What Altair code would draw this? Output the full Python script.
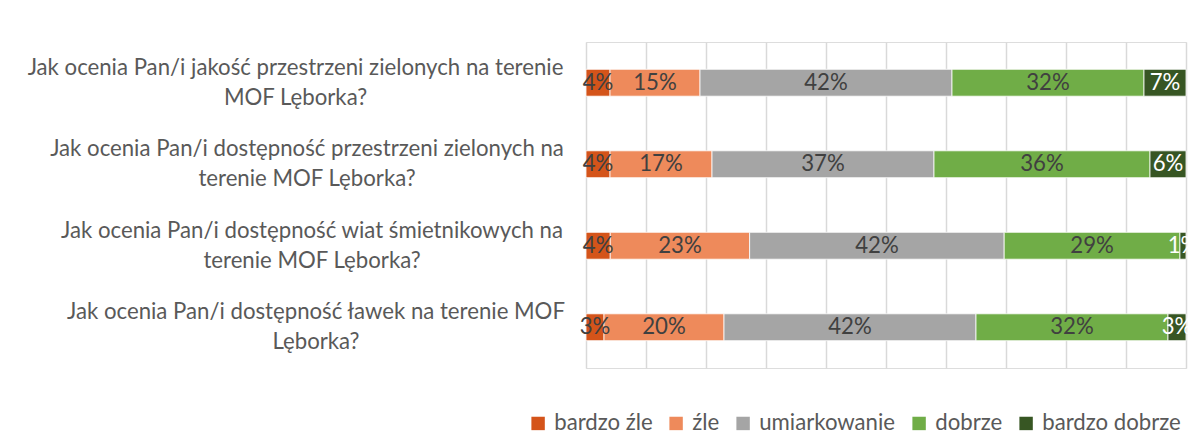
import altair as alt
import pandas as pd

questions = [
    "Jak ocenia Pan/i jakość przestrzeni zielonych na terenie\nMOF Lęborka?",
    "Jak ocenia Pan/i dostępność przestrzeni zielonych na\nterenie MOF Lęborka?",
    "Jak ocenia Pan/i dostępność wiat śmietnikowych na\nterenie MOF Lęborka?",
    "Jak ocenia Pan/i dostępność ławek na terenie MOF\nLęborka?",
]
categories = ["bardzo źle", "źle", "umiarkowanie", "dobrze", "bardzo dobrze"]
colors = ["#D4541A", "#EE8A5B", "#A5A5A5", "#70AD47", "#375623"]

bardzo_zle = [4, 4, 4, 3]
zle = [15, 17, 23, 20]
umiarkowanie = [42, 37, 42, 42]
dobrze = [32, 36, 29, 32]
bardzo_dobrze = [7, 6, 1, 3]

series = [bardzo_zle, zle, umiarkowanie, dobrze, bardzo_dobrze]
rows = []
for ci, (cat, vals) in enumerate(zip(categories, series)):
    for qi, q in enumerate(questions):
        rows.append({"question": q, "category": cat, "order": ci, "value": vals[qi]})
df = pd.DataFrame(rows)

FONT = "Lato"
FS = 22.2
pads = [291, 279.5, 274.5, 270.5]
pad_cond = {
    "condition": [
        {"test": f"datum.value == {questions[i]!r}".replace("\n", "\\n"), "value": pads[i]}
        for i in range(3)
    ],
    "value": pads[3],
}

base = alt.Chart(df).transform_stack(
    stack="value",
    groupby=["question"],
    sort=[alt.SortField("order")],
    as_=["x0", "x1"],
    offset="normalize",
).transform_calculate(
    mid="(datum.x0 + datum.x1) / 2",
    label="datum.value + '%'",
)

y_enc = alt.Y(
    "question:N",
    sort=questions,
    title=None,
    scale=alt.Scale(paddingInner=0.67, paddingOuter=0.335),
    axis=alt.Axis(
        domain=False,
        ticks=False,
        labelExpr="split(datum.label, '\\n')",
        labelAlign="center",
        labelBaseline="middle",
        labelPadding=pad_cond,
        labelOffset=-15,
        labelLimit=1000,
        labelFont=FONT,
        labelFontSize=FS,
        labelLineHeight=30,
        labelColor="#595959",
    ),
)

bars = base.mark_bar(stroke="white", strokeWidth=0.8).encode(
    x=alt.X(
        "x0:Q",
        scale=alt.Scale(domain=[0, 1], nice=False),
        axis=alt.Axis(
            values=[i / 10 for i in range(11)],
            labels=False,
            ticks=False,
            domain=False,
            title=None,
            grid=True,
            gridColor="#D9D9D9",
            gridWidth=1.5,
        ),
    ),
    x2="x1:Q",
    y=y_enc,
    color=alt.Color(
        "category:N",
        sort=categories,
        scale=alt.Scale(domain=categories, range=colors),
        legend=alt.Legend(
            title=None,
            orient="none",
            direction="horizontal",
            legendX=-59,
            legendY=370,
            symbolType="square",
            symbolSize=180,
            symbolStrokeWidth=0,
            labelFont=FONT,
            labelFontSize=FS,
            labelColor="#595959",
            labelOffset=5,
            columnPadding=12,
        ),
    ),
)

texts = base.mark_text(font=FONT, fontSize=FS, align="center", baseline="middle").encode(
    x="mid:Q",
    y=alt.Y("question:N", sort=questions),
    text="label:N",
    color=alt.condition(
        alt.datum.category == "bardzo dobrze", alt.value("#FFFFFF"), alt.value("#404040")
    ),
)

chart = alt.layer(bars, texts).properties(
    width=600,
    height=326,
    autosize=alt.AutoSizeParams(type="none"),
    padding={"left": 578, "top": 34, "right": 8, "bottom": 72},
).configure_view(stroke=None).configure(background="white")

chart.save("out.html", embed_options={"renderer": "svg", "actions": False})
